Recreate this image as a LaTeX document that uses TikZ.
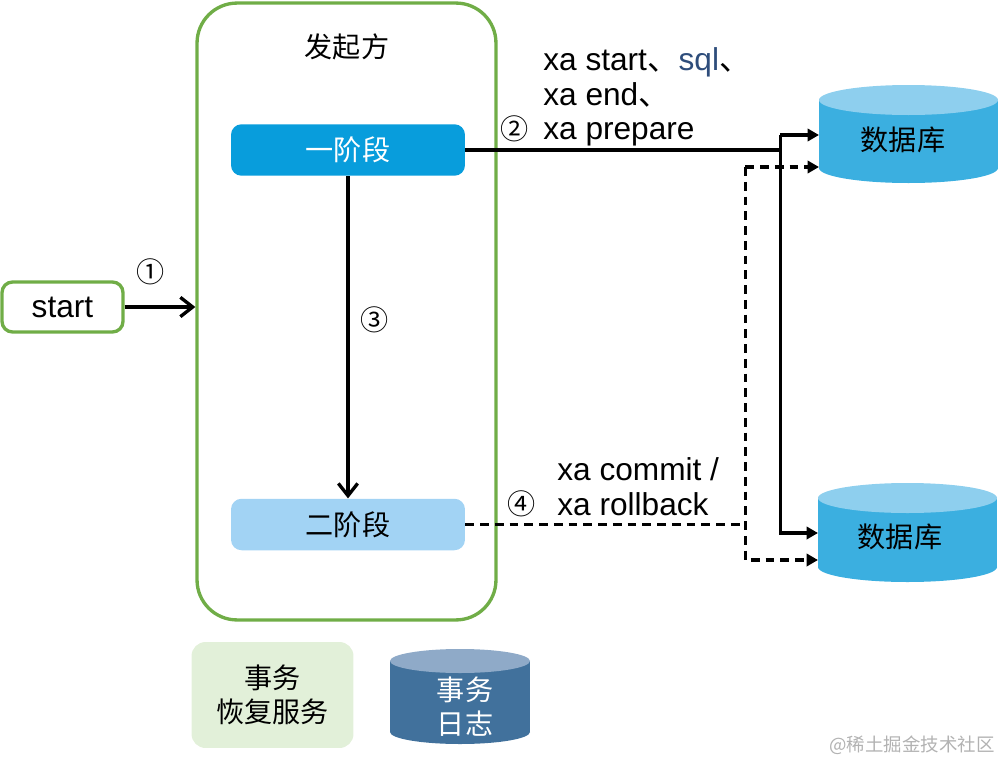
\documentclass[tikz,border=0pt]{standalone}
\usepackage{fontspec}
\setmainfont{Liberation Sans}
\newfontfamily\cjk{Noto Sans CJK SC}
\usetikzlibrary{arrows.meta}
\definecolor{initgreen}{HTML}{70AD47}
\definecolor{recgreen}{HTML}{E2F0D9}
\definecolor{stageone}{HTML}{089DDC}
\definecolor{stagetwo}{HTML}{A2D3F4}
\definecolor{dbbody}{HTML}{3BAFE0}
\definecolor{dbtop}{HTML}{8ECFEE}
\definecolor{logbody}{HTML}{41719C}
\definecolor{logtop}{HTML}{8FAAC8}
\definecolor{sqlblue}{HTML}{2E4D7B}
\tikzset{
  cjktext/.style={font=\cjk\fontsize{16}{19.3}\selectfont},
  lattext/.style={font=\fontsize{18}{19.8}\selectfont, align=left, anchor=west, inner sep=0pt},
  stagebox/.style={rounded corners=6pt, minimum width=4.68cm, minimum height=1.03cm, cjktext},
  num/.style={font=\cjk\fontsize{16}{16}\selectfont, inner sep=0pt},
  link/.style={line width=1.9pt},
  chev/.style={link, -{Straight Barb[length=7pt, width=11pt, line width=1.9pt]}},
  tri/.style={link, -{Triangle[length=6.5pt, width=7pt]}},
  dash line/.style={link, dash pattern=on 5pt off 3.4pt}
}
\begin{document}
\begin{tikzpicture}[x=0.02cm, y=-0.02cm]
\useasboundingbox (0,0) rectangle (998,761);
% initiator frame
\node[draw=initgreen, line width=1.9pt, rounded corners=0.8cm,
      minimum width=5.98cm, minimum height=12.34cm] (initiator) at (346.5,311.5) {};
\node[cjktext] (title) at (347,47) {发起方};
\node[stagebox, fill=stageone, text=white] (stage1) at (348,150) {一阶段};
\node[stagebox, fill=stagetwo] (stage2) at (348,524.5) {二阶段};
% start
\node[draw=initgreen, line width=1.9pt, rounded corners=6pt, minimum width=2.42cm,
      minimum height=1cm, font=\fontsize{18}{18}\selectfont] (start) at (62.5,307) {start};
% databases
\fill[dbbody] (819,100) rectangle (998,168);
\fill[dbbody] (908.5,168) ellipse [x radius=89.5, y radius=15];
\fill[dbtop] (908.5,100) ellipse [x radius=89.5, y radius=15];
\node[cjktext] (db1) at (903,140) {数据库};
\fill[dbbody] (818,498) rectangle (997,567);
\fill[dbbody] (907.5,567) ellipse [x radius=89.5, y radius=15];
\fill[dbtop] (907.5,498) ellipse [x radius=89.5, y radius=15];
\node[cjktext] (db2) at (900,537) {数据库};
\coordinate (db1a) at (819,135);
\coordinate (db1b) at (819,167);
\coordinate (db2a) at (818,533);
\coordinate (db2b) at (818,560);
% recovery and log
\node[fill=recgreen, rounded corners=8pt, minimum width=3.24cm, minimum height=2.12cm,
      cjktext, align=center] (recovery) at (272.5,695) {事务\\恢复服务};
\fill[logbody] (390,661) rectangle (530,732);
\fill[logbody] (460,732) ellipse [x radius=70, y radius=12];
\fill[logtop] (460,661) ellipse [x radius=70, y radius=12];
\node[cjktext, text=white, align=center] (txlog) at (465,707) {事务\\日志};
% connectors
\draw[chev] (start.east) -- (start.east -| initiator.west);
\node[num] (n1) at (151,272) {①};
\draw[chev] (stage1.south) -- (stage2.north);
\node[num] (n3) at (375,320) {③};
\draw[link] (stage1.east) -- ++(315,0) coordinate (sj);
\draw[tri] (db1a -| sj) -- (db1a);
\draw[tri] (db1a -| sj) |- (db2a);
\node[num] (n2) at (515,129) {②};
\node[lattext] (phase1) at (543,97)
  {xa start{\cjk 、}\textcolor{sqlblue}{sql}{\cjk 、}\\xa end{\cjk 、}\\xa prepare};
\draw[dash line] (stage2.east) -- ++(280,0) coordinate (dj);
\draw[dash line, -{Triangle[length=6.5pt, width=7pt]}] (db1b -| dj) -- (db1b);
\draw[dash line, -{Triangle[length=6.5pt, width=7pt]}] (db1b -| dj) |- (db2b);
\node[num] (n4) at (522,504) {④};
\node[lattext] (phase2) at (557,487) {xa commit /\\xa rollback};
% watermark
\node[font=\cjk\fontsize{10.5}{11}\selectfont, text=black!30] (mark) at (912,745) {@稀土掘金技术社区};
\end{tikzpicture}
\end{document}
